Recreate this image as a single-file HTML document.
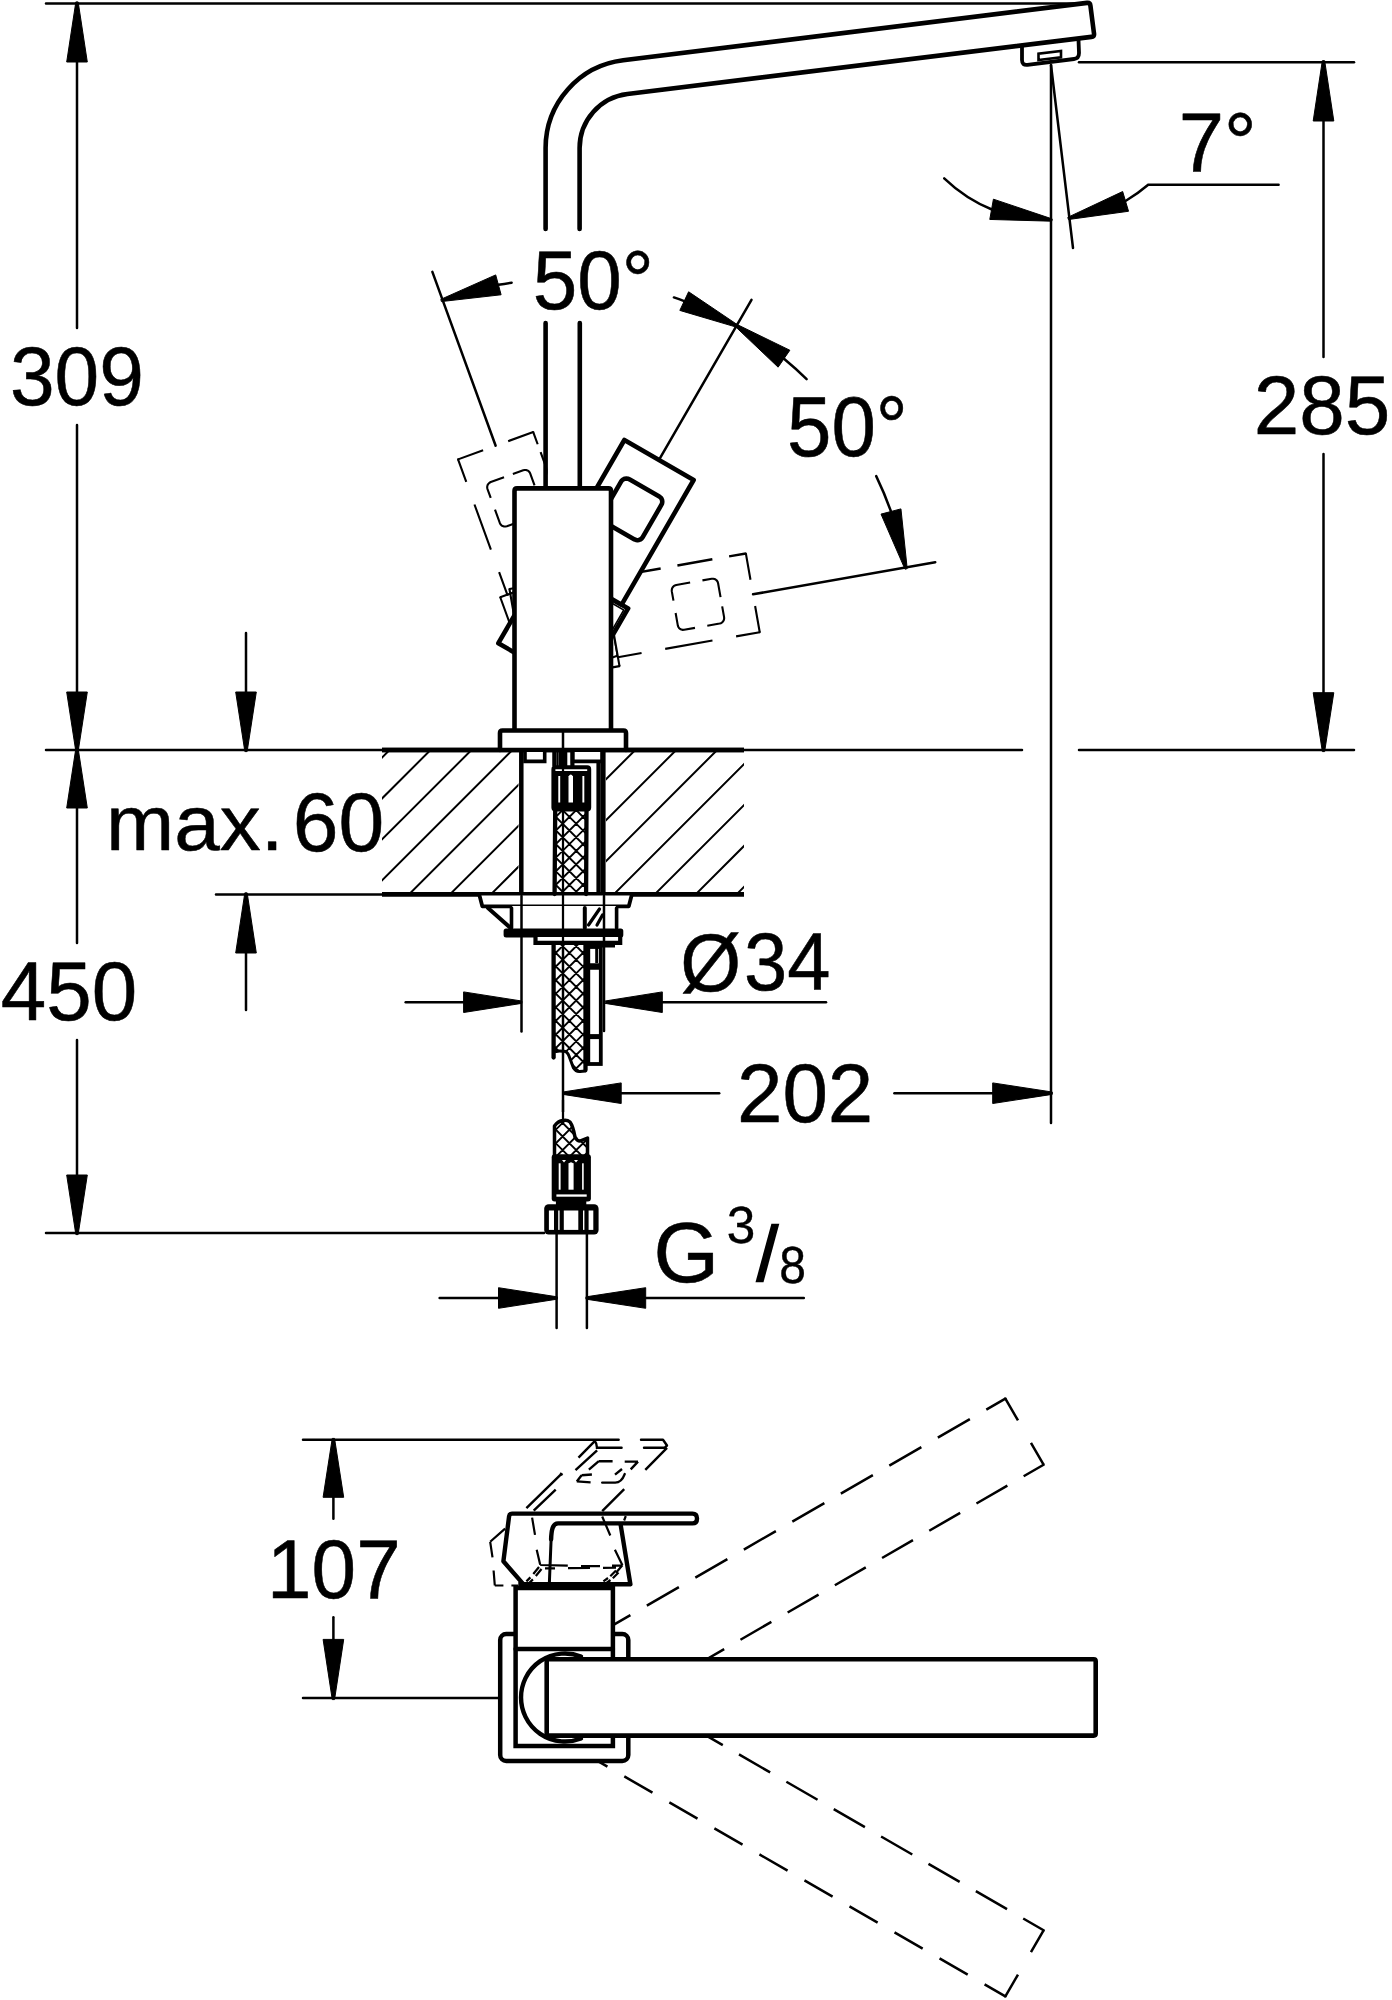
<!DOCTYPE html>
<html><head><meta charset="utf-8"><title>Faucet drawing</title>
<style>html,body{margin:0;padding:0;background:#fff;}svg{display:block;}text{fill:#000;stroke:#000;stroke-width:0.65px;stroke-linejoin:round;font-family:"Liberation Sans",sans-serif;}</style>
</head><body>
<svg width="1392" height="2000" viewBox="0 0 1392 2000" stroke="#000" stroke-linecap="round" fill="none" font-family="Liberation Sans, sans-serif">
<line x1="46" y1="3.5" x2="1085" y2="3.5" stroke-width="2.5"/>
<line x1="77" y1="4" x2="77" y2="328" stroke-width="2.5"/>
<line x1="77" y1="425" x2="77" y2="943" stroke-width="2.5"/>
<line x1="77" y1="1040" x2="77" y2="1233" stroke-width="2.5"/>
<polygon points="78.2,2.3 87.3,62 66.7,62 75.8,2.3" fill="#000" stroke="#000" stroke-width="1.0" stroke-linejoin="round"/>
<polygon points="75.8,751.2 66.7,692 87.3,692 78.2,751.2" fill="#000" stroke="#000" stroke-width="1.0" stroke-linejoin="round"/>
<polygon points="78.2,748.8 87.3,808 66.7,808 75.8,748.8" fill="#000" stroke="#000" stroke-width="1.0" stroke-linejoin="round"/>
<polygon points="75.8,1234.2 66.7,1175 87.3,1175 78.2,1234.2" fill="#000" stroke="#000" stroke-width="1.0" stroke-linejoin="round"/>
<text transform="matrix(0.8032,0,0,0.8325,9.89,405.07)" font-size="100">309</text>
<text transform="matrix(0.8180,0,0,0.8254,0.86,1019.97)" font-size="100">450</text>
<line x1="46" y1="750" x2="1022" y2="750" stroke-width="2.5"/>
<line x1="1079" y1="750" x2="1354" y2="750" stroke-width="2.5"/>
<line x1="216" y1="894.4" x2="382" y2="894.4" stroke-width="2.5"/>
<line x1="382" y1="750" x2="744" y2="750" stroke-width="4.6" stroke-linecap="butt"/>
<line x1="382" y1="894.4" x2="744" y2="894.4" stroke-width="4.6" stroke-linecap="butt"/>
<line x1="246" y1="633" x2="246" y2="750" stroke-width="2.5"/>
<polygon points="244.8,751.2 235.7,692 256.3,692 247.2,751.2" fill="#000" stroke="#000" stroke-width="1.0" stroke-linejoin="round"/>
<line x1="246" y1="894.4" x2="246" y2="1010" stroke-width="2.5"/>
<polygon points="247.2,893.2 256.3,953 235.7,953 244.8,893.2" fill="#000" stroke="#000" stroke-width="1.0" stroke-linejoin="round"/>
<text transform="matrix(0.8194,0,0,0.7799,105.97,850.02)" font-size="100">max.</text>
<text transform="matrix(0.8225,0,0,0.8254,292.79,851.07)" font-size="100">60</text>
<clipPath id="hc"><rect x="382" y="750" width="136.5" height="144.4"/><rect x="606" y="750" width="138" height="144.4"/></clipPath>
<path d="M204.2,894.4L348.6,750M245.15,894.4L389.55,750M286.1,894.4L430.5,750M327.05,894.4L471.45,750M368,894.4L512.4,750M408.95,894.4L553.35,750M449.9,894.4L594.3,750M490.85,894.4L635.25,750M531.8,894.4L676.2,750M572.75,894.4L717.15,750M613.7,894.4L758.1,750M654.65,894.4L799.05,750M695.6,894.4L840,750M736.55,894.4L880.95,750" stroke-width="2" clip-path="url(#hc)"/>
<path d="M545.6,229 V148 A88.4,88.4 0 0 1 623.2,60.3 L1087,2.9 Q1090,2.5 1090.4,5.5 L1094,33.5 Q1094.4,36.5 1091.4,36.9 L627.4,94 A54.4,54.4 0 0 0 579.6,148 V229" fill="none" stroke-width="4.6"/>
<path d="M1022,46 L1022,60 Q1022,65.5 1027.5,64.8 L1074,59 Q1079,58.4 1079,53 L1078.5,40" fill="none" stroke-width="3.8"/>
<path d="M1038.5,53.6 L1038.5,60 L1061,57.3 L1061,51 Z" fill="none" stroke-width="2.6"/>
<line x1="1051" y1="65" x2="1051" y2="1123" stroke-width="2.5"/>
<line x1="1051" y1="65" x2="1073" y2="248" stroke-width="2.5"/>
<line x1="1079" y1="62.2" x2="1354" y2="62.2" stroke-width="2.5"/>
<line x1="1323.5" y1="62" x2="1323.5" y2="357" stroke-width="2.5"/>
<line x1="1323.5" y1="454" x2="1323.5" y2="750" stroke-width="2.5"/>
<polygon points="1324.7,61 1333.8,121 1313.2,121 1322.3,61" fill="#000" stroke="#000" stroke-width="1.0" stroke-linejoin="round"/>
<polygon points="1322.3,751.2 1313.2,692.7 1333.8,692.7 1324.7,751.2" fill="#000" stroke="#000" stroke-width="1.0" stroke-linejoin="round"/>
<text transform="matrix(0.8184,0,0,0.8283,1253.81,434.37)" font-size="100">285</text>
<path d="M944.2,178.3 A155,155 0 0 0 993,210" fill="none" stroke-width="2.5"/>
<polygon points="1051.47,221.19 989.79,219.44 993.41,199.16 1051.89,218.83" fill="#000" stroke="#000" stroke-width="1.0" stroke-linejoin="round"/>
<polygon points="1068.11,217.19 1122.67,191.52 1128.53,211.28 1068.79,219.49" fill="#000" stroke="#000" stroke-width="1.0" stroke-linejoin="round"/>
<path d="M1125.5,201 A155,155 0 0 0 1148.2,184.8 L1278.6,184.8" fill="none" stroke-width="2.5"/>
<text transform="matrix(0.8142,0,0,0.8416,1178.63,170.80)" font-size="100">7°</text>
<line x1="500.26" y1="597.26" x2="589.53" y2="564.77" stroke-width="2.1" stroke-dasharray="63.33 31.67" stroke-dashoffset="31.67" stroke-linecap="butt"/>
<line x1="589.53" y1="564.77" x2="622.03" y2="654.04" stroke-width="2.1" stroke-dasharray="63.33 31.67" stroke-dashoffset="31.67" stroke-linecap="butt"/>
<line x1="622.03" y1="654.04" x2="532.76" y2="686.53" stroke-width="2.1" stroke-dasharray="63.33 31.67" stroke-dashoffset="31.67" stroke-linecap="butt"/>
<line x1="532.76" y1="686.53" x2="500.26" y2="597.26" stroke-width="2.1" stroke-dasharray="63.33 31.67" stroke-dashoffset="31.67" stroke-linecap="butt"/>
<circle cx="500.26" cy="597.26" r="1.05" fill="#000" stroke="none"/>
<circle cx="589.53" cy="564.77" r="1.05" fill="#000" stroke="none"/>
<circle cx="622.03" cy="654.04" r="1.05" fill="#000" stroke="none"/>
<circle cx="532.76" cy="686.53" r="1.05" fill="#000" stroke="none"/>
<polygon points="507.31,594.7 458.06,459.38 533.24,432.02 582.49,567.33" fill="#fff" stroke="none"/>
<line x1="458.06" y1="459.38" x2="533.24" y2="432.02" stroke-width="2.1" stroke-dasharray="53.33 26.67" stroke-dashoffset="26.67" stroke-linecap="butt"/>
<line x1="533.24" y1="432.02" x2="582.49" y2="567.33" stroke-width="2.1" stroke-dasharray="47 8.5" stroke-dashoffset="34" stroke-linecap="butt"/>
<line x1="507.31" y1="594.7" x2="458.06" y2="459.38" stroke-width="2.1" stroke-dasharray="48 24" stroke-dashoffset="24" stroke-linecap="butt"/>
<line x1="582.49" y1="567.33" x2="507.31" y2="594.7" stroke-width="2.1" stroke-dasharray="53.33 26.67" stroke-dashoffset="26.67" stroke-linecap="butt"/>
<circle cx="458.06" cy="459.38" r="1.05" fill="#000" stroke="none"/>
<circle cx="533.24" cy="432.02" r="1.05" fill="#000" stroke="none"/>
<circle cx="582.49" cy="567.33" r="1.05" fill="#000" stroke="none"/>
<circle cx="507.31" cy="594.7" r="1.05" fill="#000" stroke="none"/>
<path d="M507,476.15 L523.21,470.25 L524.61,469.94 L526.04,470.01 L527.41,470.44 L528.62,471.21 L529.59,472.27 L530.26,473.54 L542.57,507.37 L542.88,508.77 L542.82,510.21 L542.39,511.58 L541.62,512.79 L540.56,513.76 L539.28,514.42 L506.86,526.22 L505.46,526.53 L504.03,526.47 L502.66,526.04 L501.45,525.26 L500.48,524.21 L499.81,522.93 L487.5,489.1 L487.19,487.7 L487.25,486.27 L487.69,484.9 L488.46,483.69 L489.52,482.72 L490.79,482.05 L507,476.15" stroke-width="2.1" fill="none" stroke-dasharray="32.14 12.5" stroke-dashoffset="38.39" stroke-linecap="butt" stroke-linejoin="round"/>
<line x1="602.99" y1="572.54" x2="619.49" y2="666.1" stroke-width="2.1" stroke-dasharray="63.33 31.67" stroke-dashoffset="31.67" stroke-linecap="butt"/>
<line x1="619.49" y1="666.1" x2="525.93" y2="682.59" stroke-width="2.1" stroke-dasharray="63.33 31.67" stroke-dashoffset="31.67" stroke-linecap="butt"/>
<line x1="525.93" y1="682.59" x2="509.44" y2="589.04" stroke-width="2.1" stroke-dasharray="63.33 31.67" stroke-dashoffset="31.67" stroke-linecap="butt"/>
<line x1="509.44" y1="589.04" x2="602.99" y2="572.54" stroke-width="2.1" stroke-dasharray="63.33 31.67" stroke-dashoffset="31.67" stroke-linecap="butt"/>
<circle cx="602.99" cy="572.54" r="1.05" fill="#000" stroke="none"/>
<circle cx="619.49" cy="666.1" r="1.05" fill="#000" stroke="none"/>
<circle cx="525.93" cy="682.59" r="1.05" fill="#000" stroke="none"/>
<circle cx="509.44" cy="589.04" r="1.05" fill="#000" stroke="none"/>
<polygon points="745.85,553.44 759.74,632.23 617.93,657.23 604.03,578.45" fill="#fff" stroke="none"/>
<line x1="745.85" y1="553.44" x2="759.74" y2="632.23" stroke-width="2.1" stroke-dasharray="53.33 26.67" stroke-dashoffset="26.67" stroke-linecap="butt"/>
<line x1="759.74" y1="632.23" x2="617.93" y2="657.23" stroke-width="2.1" stroke-dasharray="48 24" stroke-dashoffset="24" stroke-linecap="butt"/>
<line x1="745.85" y1="553.44" x2="604.03" y2="578.45" stroke-width="2.5" stroke-dasharray="35.5 17" stroke-dashoffset="18.5" stroke-linecap="butt"/>
<line x1="617.93" y1="657.23" x2="604.03" y2="578.45" stroke-width="2.1" stroke-dasharray="53.33 26.67" stroke-dashoffset="26.67" stroke-linecap="butt"/>
<circle cx="745.85" cy="553.44" r="1.05" fill="#000" stroke="none"/>
<circle cx="759.74" cy="632.23" r="1.05" fill="#000" stroke="none"/>
<circle cx="617.93" cy="657.23" r="1.05" fill="#000" stroke="none"/>
<circle cx="604.03" cy="578.45" r="1.05" fill="#000" stroke="none"/>
<path d="M721.09,600.2 L724.09,617.19 L724.15,618.62 L723.84,620.03 L723.17,621.3 L722.2,622.36 L720.99,623.13 L719.62,623.56 L684.17,629.81 L682.74,629.88 L681.33,629.56 L680.06,628.9 L679,627.93 L678.23,626.72 L677.8,625.35 L671.81,591.38 L671.75,589.94 L672.06,588.54 L672.72,587.27 L673.69,586.21 L674.9,585.44 L676.27,585 L711.72,578.75 L713.16,578.69 L714.56,579 L715.83,579.66 L716.89,580.63 L717.66,581.84 L718.09,583.21 L721.09,600.2" stroke-width="2.1" fill="none" stroke-dasharray="32.14 12.5" stroke-dashoffset="38.39" stroke-linecap="butt" stroke-linejoin="round"/>
<rect x="547.5" y="323" width="30.5" height="166" fill="#fff" stroke="none"/>
<line x1="545.6" y1="323" x2="545.6" y2="488" stroke-width="4.6"/>
<line x1="579.8" y1="323" x2="579.8" y2="488" stroke-width="4.6"/>
<polygon points="545.86,560.95 628.14,608.45 580.64,690.72 498.36,643.22" fill="#fff" stroke-width="4.6" stroke-linejoin="round"/>
<polygon points="552.36,564.7 624.36,439.99 693.64,479.99 621.64,604.7" fill="#fff" stroke-width="4.6" stroke-linejoin="round"/>
<polygon points="659.27,496.52 660.51,497.47 661.47,498.72 662.07,500.16 662.27,501.72 662.07,503.27 661.47,504.72 642.72,537.19 641.76,538.44 640.52,539.39 639.07,539.99 637.52,540.19 635.97,539.99 634.52,539.39 604.64,522.14 603.4,521.19 602.45,519.94 601.85,518.5 601.64,516.94 601.85,515.39 602.45,513.94 621.2,481.47 622.15,480.22 623.39,479.27 624.84,478.67 626.39,478.47 627.95,478.67 629.39,479.27" fill="#fff" stroke-width="4.6" stroke-linejoin="round"/>
<polyline points="609.5,601.73 623.79,609.98 609.54,634.66" fill="none" stroke-width="1.6" stroke-linejoin="miter"/>
<path d="M514.5,730 V491 Q514.5,488.4 517,488.4 H608.5 Q611,488.4 611,491 V730" fill="#fff" stroke-width="4.6"/>
<path d="M500,750 V733 Q500,730.5 502.5,730.5 H623.5 Q626,730.5 626,733 V750" fill="#fff" stroke-width="4.6"/>
<line x1="563" y1="731" x2="563" y2="749" stroke-width="2.5"/>
<line x1="382" y1="750" x2="744" y2="750" stroke-width="4.6" stroke-linecap="butt"/>
<line x1="495.65" y1="445.7" x2="432.37" y2="271.86" stroke-width="2.5"/>
<line x1="659" y1="459.99" x2="751.5" y2="299.78" stroke-width="2.5"/>
<line x1="753.05" y1="594.31" x2="935.24" y2="562.19" stroke-width="2.5"/>
<polygon points="441.16,299.21 495.69,274.91 501.11,294.78 441.79,301.52" fill="#000" stroke="#000" stroke-width="1.0" stroke-linejoin="round"/>
<path d="M498.4,284.84 A349,349 0 0 1 511.62,282.66" fill="none" stroke-width="2.5"/>
<polygon points="737.07,327.35 679.83,310.42 688.62,291.79 738.1,325.18" fill="#000" stroke="#000" stroke-width="1.0" stroke-linejoin="round"/>
<path d="M673.89,297.42 A349,349 0 0 1 684.22,301.1" fill="none" stroke-width="2.5"/>
<polygon points="736.2,324.09 789.86,350.24 778.12,367.17 734.83,326.06" fill="#000" stroke="#000" stroke-width="1.0" stroke-linejoin="round"/>
<path d="M783.99,358.7 A349,349 0 0 1 806.62,379.08" fill="none" stroke-width="2.5"/>
<polygon points="904.84,568.86 881.02,514.12 900.94,508.88 907.16,568.25" fill="#000" stroke="#000" stroke-width="1.0" stroke-linejoin="round"/>
<path d="M876.21,476.1 A349,349 0 0 1 890.98,511.5" fill="none" stroke-width="2.5"/>
<text transform="matrix(0.8007,0,0,0.8396,532.70,308.76)" font-size="100">50°</text>
<text transform="matrix(0.7986,0,0,0.8438,787.01,455.96)" font-size="100">50°</text>
<line x1="521.3" y1="752" x2="521.3" y2="894" stroke-width="4.5" stroke-linecap="butt"/>
<line x1="603.2" y1="752" x2="603.2" y2="894" stroke-width="4.8" stroke-linecap="butt"/>
<path d="M525,752 V761.4 H544.7 V752" stroke-width="3.6" fill="#fff"/>
<path d="M572.6,752 V761.4 H602 V752" stroke-width="3.6" fill="#fff"/>
<line x1="554.5" y1="752" x2="554.5" y2="766" stroke-width="4.5" stroke-linecap="butt"/>
<line x1="557.7" y1="752" x2="557.7" y2="766" stroke-width="1.6" stroke-linecap="butt"/>
<rect x="558.5" y="752" width="8.8" height="14" fill="#000" stroke="none"/>
<line x1="572.4" y1="752" x2="572.4" y2="766" stroke-width="4.2" stroke-linecap="butt"/>
<line x1="598.2" y1="763" x2="598.2" y2="894" stroke-width="3.6" stroke-linecap="butt"/>
<line x1="600.8" y1="763" x2="600.8" y2="894" stroke-width="1.2" stroke-linecap="butt"/>
<rect x="553.4" y="767.3" width="35.8" height="42.2" rx="2" stroke-width="4" fill="#fff"/>
<rect x="553.4" y="771" width="35.8" height="39" fill="#000" stroke="none"/>
<rect x="558.3" y="776" width="1.900000000000091" height="26.5" fill="#fff" stroke="none"/>
<rect x="568.5" y="776" width="4.5" height="26.5" fill="#fff" stroke="none"/>
<rect x="582.4" y="776" width="1.8999999999999773" height="26.5" fill="#fff" stroke="none"/>
<path d="M568.5,776.5 Q570.7,772.5 573,776.5 Z" fill="#fff" stroke="none"/>
<clipPath id="bc1"><rect x="555" y="811" width="30" height="261"/></clipPath>
<path d="M-118.5,809L146.5,1074M169.3,809L-95.7,1074M-104.9,809L160.1,1074M182.9,809L-82.1,1074M-91.3,809L173.7,1074M196.5,809L-68.5,1074M-77.7,809L187.3,1074M210.1,809L-54.9,1074M-64.1,809L200.9,1074M223.7,809L-41.3,1074M-50.5,809L214.5,1074M237.3,809L-27.7,1074M-36.9,809L228.1,1074M250.9,809L-14.1,1074M-23.3,809L241.7,1074M264.5,809L-0.5,1074M-9.7,809L255.3,1074M278.1,809L13.1,1074M3.9,809L268.9,1074M291.7,809L26.7,1074M17.5,809L282.5,1074M305.3,809L40.3,1074M31.1,809L296.1,1074M318.9,809L53.9,1074M44.7,809L309.7,1074M332.5,809L67.5,1074M58.3,809L323.3,1074M346.1,809L81.1,1074M71.9,809L336.9,1074M359.7,809L94.7,1074M85.5,809L350.5,1074M373.3,809L108.3,1074M99.1,809L364.1,1074M386.9,809L121.9,1074M112.7,809L377.7,1074M400.5,809L135.5,1074M126.3,809L391.3,1074M414.1,809L149.1,1074M139.9,809L404.9,1074M427.7,809L162.7,1074M153.5,809L418.5,1074M441.3,809L176.3,1074M167.1,809L432.1,1074M454.9,809L189.9,1074M180.7,809L445.7,1074M468.5,809L203.5,1074M194.3,809L459.3,1074M482.1,809L217.1,1074M207.9,809L472.9,1074M495.7,809L230.7,1074M221.5,809L486.5,1074M509.3,809L244.3,1074M235.1,809L500.1,1074M522.9,809L257.9,1074M248.7,809L513.7,1074M536.5,809L271.5,1074M262.3,809L527.3,1074M550.1,809L285.1,1074M275.9,809L540.9,1074M563.7,809L298.7,1074M289.5,809L554.5,1074M577.3,809L312.3,1074M303.1,809L568.1,1074M590.9,809L325.9,1074M316.7,809L581.7,1074M604.5,809L339.5,1074M330.3,809L595.3,1074M618.1,809L353.1,1074M343.9,809L608.9,1074M631.7,809L366.7,1074M357.5,809L622.5,1074M645.3,809L380.3,1074M371.1,809L636.1,1074M658.9,809L393.9,1074M384.7,809L649.7,1074M672.5,809L407.5,1074M398.3,809L663.3,1074M686.1,809L421.1,1074M411.9,809L676.9,1074M699.7,809L434.7,1074M425.5,809L690.5,1074M713.3,809L448.3,1074M439.1,809L704.1,1074M726.9,809L461.9,1074M452.7,809L717.7,1074M740.5,809L475.5,1074M466.3,809L731.3,1074M754.1,809L489.1,1074M479.9,809L744.9,1074M767.7,809L502.7,1074M493.5,809L758.5,1074M781.3,809L516.3,1074M507.1,809L772.1,1074M794.9,809L529.9,1074M520.7,809L785.7,1074M808.5,809L543.5,1074M534.3,809L799.3,1074M822.1,809L557.1,1074M547.9,809L812.9,1074M835.7,809L570.7,1074M561.5,809L826.5,1074M849.3,809L584.3,1074M575.1,809L840.1,1074M862.9,809L597.9,1074M588.7,809L853.7,1074M876.5,809L611.5,1074M602.3,809L867.3,1074M890.1,809L625.1,1074M615.9,809L880.9,1074M903.7,809L638.7,1074M629.5,809L894.5,1074M917.3,809L652.3,1074M643.1,809L908.1,1074M930.9,809L665.9,1074M656.7,809L921.7,1074M944.5,809L679.5,1074M670.3,809L935.3,1074M958.1,809L693.1,1074M683.9,809L948.9,1074M971.7,809L706.7,1074M697.5,809L962.5,1074M985.3,809L720.3,1074M711.1,809L976.1,1074M998.9,809L733.9,1074M724.7,809L989.7,1074M1012.5,809L747.5,1074M738.3,809L1003.3,1074M1026.1,809L761.1,1074M751.9,809L1016.9,1074M1039.7,809L774.7,1074M765.5,809L1030.5,1074M1053.3,809L788.3,1074M779.1,809L1044.1,1074M1066.9,809L801.9,1074M792.7,809L1057.7,1074M1080.5,809L815.5,1074M806.3,809L1071.3,1074M1094.1,809L829.1,1074M819.9,809L1084.9,1074M1107.7,809L842.7,1074M833.5,809L1098.5,1074M1121.3,809L856.3,1074M847.1,809L1112.1,1074M1134.9,809L869.9,1074M860.7,809L1125.7,1074M1148.5,809L883.5,1074M874.3,809L1139.3,1074M1162.1,809L897.1,1074M887.9,809L1152.9,1074M1175.7,809L910.7,1074M901.5,809L1166.5,1074M1189.3,809L924.3,1074M915.1,809L1180.1,1074M1202.9,809L937.9,1074M928.7,809L1193.7,1074M1216.5,809L951.5,1074M942.3,809L1207.3,1074M1230.1,809L965.1,1074M955.9,809L1220.9,1074M1243.7,809L978.7,1074" stroke-width="1.9" clip-path="url(#bc1)"/>
<path d="M554,1053 Q559,1050.5 563,1051.3 Q567,1050.5 569,1056 L573.5,1068 Q576,1072 580,1071.5 L586,1071 L586,1080 L554,1080 Z" fill="#fff" stroke="none"/>
<path d="M556,1051.5 Q559,1050.5 563,1051.3 Q567,1050.5 569,1056 L573.5,1068 Q576,1072 580,1071.5 L585.5,1071" fill="none" stroke-width="3"/>
<path d="M479.5,895.5 L482.3,906.3 L628.8,906.3 L631.6,895.5" stroke-width="3.8" fill="#fff" stroke-linejoin="round"/>
<rect x="512" y="906" width="104" height="23" fill="#fff" stroke="none"/>
<line x1="488" y1="908" x2="510" y2="927.5" stroke-width="4"/>
<line x1="511.5" y1="908" x2="511.5" y2="928" stroke-width="3.6"/>
<line x1="584.8" y1="908" x2="584.8" y2="928" stroke-width="4"/>
<line x1="616.6" y1="908" x2="616.6" y2="928" stroke-width="3.6"/>
<line x1="588.5" y1="925" x2="599.5" y2="909" stroke-width="3.2"/>
<line x1="597" y1="925" x2="602.5" y2="915" stroke-width="3.2"/>
<rect x="503.6" y="928.4" width="119.7" height="9.1" rx="2.5" fill="#000" stroke="none"/>
<path d="M535.5,937 V942.8 H620.2 V937" stroke-width="4.2" fill="#fff"/>
<rect x="585" y="944" width="30" height="3.5" fill="#000" stroke="none"/>
<line x1="563" y1="750" x2="563" y2="1121" stroke-width="2.25"/>
<line x1="521.5" y1="896" x2="521.5" y2="1031.6" stroke-width="2.5"/>
<line x1="604" y1="896" x2="604" y2="1031" stroke-width="2.5"/>
<rect x="588.3" y="947" width="12.5" height="117" stroke-width="3.8" fill="#fff"/>
<line x1="588.3" y1="966.5" x2="600.8" y2="966.5" stroke-width="6.5" stroke-linecap="butt"/>
<line x1="588.3" y1="1036.6" x2="600.8" y2="1036.6" stroke-width="5" stroke-linecap="butt"/>
<line x1="596.7" y1="947" x2="596.7" y2="963" stroke-width="3" stroke-linecap="butt"/>
<line x1="553.6" y1="944" x2="553.6" y2="1057.5" stroke-width="4.3"/>
<line x1="585.5" y1="944" x2="585.5" y2="1070" stroke-width="4.3"/>
<line x1="555.2" y1="811" x2="554.6" y2="894" stroke-width="4.3"/>
<line x1="586.5" y1="811" x2="586.1" y2="894" stroke-width="4.3"/>
<line x1="563" y1="944" x2="563" y2="1121" stroke-width="2.25"/>
<line x1="405.7" y1="1002.2" x2="463" y2="1002.2" stroke-width="2.5"/>
<polygon points="521.5,1003.4 463.6,1012.5 463.6,991.9 521.5,1001" fill="#000" stroke="#000" stroke-width="1.0" stroke-linejoin="round"/>
<polygon points="605.3,1001 662.3,991.9 662.3,1012.5 605.3,1003.4" fill="#000" stroke="#000" stroke-width="1.0" stroke-linejoin="round"/>
<line x1="662" y1="1002.2" x2="826" y2="1002.2" stroke-width="2.5"/>
<text transform="matrix(0.7830,0,0,0.8243,680.26,990.94)" font-size="100">Ø</text>
<text transform="matrix(0.7770,0,0,0.8198,744.09,989.98)" font-size="100">34</text>
<polygon points="563.1,1092 621.2,1082.9 621.2,1103.5 563.1,1094.4" fill="#000" stroke="#000" stroke-width="1.0" stroke-linejoin="round"/>
<line x1="621" y1="1093.2" x2="719.2" y2="1093.2" stroke-width="2.5"/>
<text transform="matrix(0.8179,0,0,0.8254,736.91,1122.07)" font-size="100">202</text>
<line x1="894.4" y1="1093.2" x2="992.7" y2="1093.2" stroke-width="2.5"/>
<polygon points="1052,1094.4 992.7,1103.5 992.7,1082.9 1052,1092" fill="#000" stroke="#000" stroke-width="1.0" stroke-linejoin="round"/>
<clipPath id="bc2"><rect x="555.5" y="1117" width="32.0" height="39"/></clipPath>
<path d="M187.5,1115L230.5,1158M-136.7,1115L-179.7,1158M201.1,1115L244.1,1158M-123.1,1115L-166.1,1158M214.7,1115L257.7,1158M-109.5,1115L-152.5,1158M228.3,1115L271.3,1158M-95.9,1115L-138.9,1158M241.9,1115L284.9,1158M-82.3,1115L-125.3,1158M255.5,1115L298.5,1158M-68.7,1115L-111.7,1158M269.1,1115L312.1,1158M-55.1,1115L-98.1,1158M282.7,1115L325.7,1158M-41.5,1115L-84.5,1158M296.3,1115L339.3,1158M-27.9,1115L-70.9,1158M309.9,1115L352.9,1158M-14.3,1115L-57.3,1158M323.5,1115L366.5,1158M-0.7,1115L-43.7,1158M337.1,1115L380.1,1158M12.9,1115L-30.1,1158M350.7,1115L393.7,1158M26.5,1115L-16.5,1158M364.3,1115L407.3,1158M40.1,1115L-2.9,1158M377.9,1115L420.9,1158M53.7,1115L10.7,1158M391.5,1115L434.5,1158M67.3,1115L24.3,1158M405.1,1115L448.1,1158M80.9,1115L37.9,1158M418.7,1115L461.7,1158M94.5,1115L51.5,1158M432.3,1115L475.3,1158M108.1,1115L65.1,1158M445.9,1115L488.9,1158M121.7,1115L78.7,1158M459.5,1115L502.5,1158M135.3,1115L92.3,1158M473.1,1115L516.1,1158M148.9,1115L105.9,1158M486.7,1115L529.7,1158M162.5,1115L119.5,1158M500.3,1115L543.3,1158M176.1,1115L133.1,1158M513.9,1115L556.9,1158M189.7,1115L146.7,1158M527.5,1115L570.5,1158M203.3,1115L160.3,1158M541.1,1115L584.1,1158M216.9,1115L173.9,1158M554.7,1115L597.7,1158M230.5,1115L187.5,1158M568.3,1115L611.3,1158M244.1,1115L201.1,1158M581.9,1115L624.9,1158M257.7,1115L214.7,1158M595.5,1115L638.5,1158M271.3,1115L228.3,1158M609.1,1115L652.1,1158M284.9,1115L241.9,1158M622.7,1115L665.7,1158M298.5,1115L255.5,1158M636.3,1115L679.3,1158M312.1,1115L269.1,1158M649.9,1115L692.9,1158M325.7,1115L282.7,1158M663.5,1115L706.5,1158M339.3,1115L296.3,1158M677.1,1115L720.1,1158M352.9,1115L309.9,1158M690.7,1115L733.7,1158M366.5,1115L323.5,1158M704.3,1115L747.3,1158M380.1,1115L337.1,1158M717.9,1115L760.9,1158M393.7,1115L350.7,1158M731.5,1115L774.5,1158M407.3,1115L364.3,1158M745.1,1115L788.1,1158M420.9,1115L377.9,1158M758.7,1115L801.7,1158M434.5,1115L391.5,1158M772.3,1115L815.3,1158M448.1,1115L405.1,1158M785.9,1115L828.9,1158M461.7,1115L418.7,1158M799.5,1115L842.5,1158M475.3,1115L432.3,1158M813.1,1115L856.1,1158M488.9,1115L445.9,1158M826.7,1115L869.7,1158M502.5,1115L459.5,1158M840.3,1115L883.3,1158M516.1,1115L473.1,1158M853.9,1115L896.9,1158M529.7,1115L486.7,1158M867.5,1115L910.5,1158M543.3,1115L500.3,1158M881.1,1115L924.1,1158M556.9,1115L513.9,1158M894.7,1115L937.7,1158M570.5,1115L527.5,1158M908.3,1115L951.3,1158M584.1,1115L541.1,1158M921.9,1115L964.9,1158M597.7,1115L554.7,1158M935.5,1115L978.5,1158M611.3,1115L568.3,1158M949.1,1115L992.1,1158M624.9,1115L581.9,1158M962.7,1115L1005.7,1158M638.5,1115L595.5,1158M976.3,1115L1019.3,1158M652.1,1115L609.1,1158M989.9,1115L1032.9,1158M665.7,1115L622.7,1158M1003.5,1115L1046.5,1158M679.3,1115L636.3,1158M1017.1,1115L1060.1,1158M692.9,1115L649.9,1158M1030.7,1115L1073.7,1158M706.5,1115L663.5,1158M1044.3,1115L1087.3,1158M720.1,1115L677.1,1158M1057.9,1115L1100.9,1158M733.7,1115L690.7,1158M1071.5,1115L1114.5,1158M747.3,1115L704.3,1158M1085.1,1115L1128.1,1158M760.9,1115L717.9,1158M1098.7,1115L1141.7,1158M774.5,1115L731.5,1158M1112.3,1115L1155.3,1158M788.1,1115L745.1,1158M1125.9,1115L1168.9,1158M801.7,1115L758.7,1158M1139.5,1115L1182.5,1158M815.3,1115L772.3,1158M1153.1,1115L1196.1,1158M828.9,1115L785.9,1158M1166.7,1115L1209.7,1158M842.5,1115L799.5,1158M1180.3,1115L1223.3,1158M856.1,1115L813.1,1158M1193.9,1115L1236.9,1158M869.7,1115L826.7,1158M1207.5,1115L1250.5,1158M883.3,1115L840.3,1158M1221.1,1115L1264.1,1158M896.9,1115L853.9,1158M1234.7,1115L1277.7,1158M910.5,1115L867.5,1158M1248.3,1115L1291.3,1158M924.1,1115L881.1,1158M1261.9,1115L1304.9,1158M937.7,1115L894.7,1158" stroke-width="1.9" clip-path="url(#bc2)"/>
<path d="M540,1112 H600 V1160 H540 Z M554.5,1126 Q558,1121 563,1120.5 Q567,1119.5 570,1122 Q573,1126 575,1137 Q577,1141 580,1141 L587.5,1138 V1158 H554.5 Z" fill="#fff" fill-rule="evenodd" stroke="none"/>
<line x1="563" y1="1100" x2="563" y2="1121" stroke-width="2.25"/>
<path d="M554.5,1156 V1126 Q558,1121 563,1120.5 Q567,1119.5 570,1122 Q573,1126 575,1137 Q577,1141 580,1141 L587.5,1138 V1156" stroke-width="3.5" fill="none" stroke-linejoin="round"/>
<rect x="551.7" y="1154.2" width="39.2" height="47.2" rx="3" fill="#000" stroke="none"/>
<rect x="558.7" y="1163.3" width="1.9" height="26.4" fill="#fff" stroke="none"/>
<rect x="568.5" y="1163.3" width="5.1" height="26.4" fill="#fff" stroke="none"/>
<rect x="582.1" y="1163.3" width="1.6" height="26.4" fill="#fff" stroke="none"/>
<path d="M568.5,1164 Q571,1160.5 573.6,1164 Z" fill="#fff" stroke="none"/>
<rect x="556.4" y="1194.4" width="30.3" height="2.3" fill="#fff" stroke="none"/>
<path d="M562,1160 L566,1160 L564,1162.5 Z M574,1160 L578,1160 L576,1162.5 Z" fill="#fff" stroke="none"/>
<rect x="555.9" y="1200" width="30.4" height="6" fill="#000" stroke="none"/>
<rect x="544.2" y="1204.2" width="54.4" height="30.4" rx="4.5" fill="#000" stroke="none"/>
<rect x="548.9" y="1210.5" width="5.1" height="19.4" fill="#fff" stroke="none"/>
<rect x="558.2" y="1210.5" width="1.4" height="19.4" fill="#fff" stroke="none"/>
<rect x="563.8" y="1210.5" width="14.5" height="19.4" fill="#fff" stroke="none"/>
<rect x="583" y="1210.5" width="1.4" height="19.4" fill="#fff" stroke="none"/>
<rect x="588.6" y="1210.5" width="4.7" height="19.4" fill="#fff" stroke="none"/>
<line x1="556.6" y1="1234" x2="556.6" y2="1328" stroke-width="2.5"/>
<line x1="586.9" y1="1234" x2="586.9" y2="1328" stroke-width="2.5"/>
<line x1="46" y1="1233" x2="544" y2="1233" stroke-width="2.5"/>
<line x1="439.6" y1="1298" x2="498.5" y2="1298" stroke-width="2.5"/>
<polygon points="557,1299.2 498.5,1308.3 498.5,1287.7 557,1296.8" fill="#000" stroke="#000" stroke-width="1.0" stroke-linejoin="round"/>
<polygon points="586.3,1296.8 645.7,1287.7 645.7,1308.3 586.3,1299.2" fill="#000" stroke="#000" stroke-width="1.0" stroke-linejoin="round"/>
<line x1="645.7" y1="1298" x2="803.8" y2="1298" stroke-width="2.5"/>
<text transform="matrix(0.8429,0,0,0.8452,653.59,1282.05)" font-size="100">G</text>
<text transform="matrix(0.5137,0,0,0.5272,726.77,1243.37)" font-size="100">3</text>
<text transform="matrix(0.4809,0,0,0.5216,779.16,1282.68)" font-size="100">8</text>
<polygon points="755.5,1282.3 763.5,1282.3 779.3,1223.7 771.4,1223.7" fill="#000" stroke-width="0"/>
<line x1="303" y1="1439.8" x2="618.6" y2="1439.8" stroke-width="2.5"/>
<line x1="303" y1="1697.9" x2="499.6" y2="1697.9" stroke-width="2.5"/>
<polygon points="334.6,1438.8 343.7,1497.3 323.1,1497.3 332.2,1438.8" fill="#000" stroke="#000" stroke-width="1.0" stroke-linejoin="round"/>
<line x1="333.4" y1="1497" x2="333.4" y2="1518.8" stroke-width="2.5"/>
<line x1="333.4" y1="1617.3" x2="333.4" y2="1640" stroke-width="2.5"/>
<polygon points="332.2,1699.2 323.1,1639.4 343.7,1639.4 334.6,1699.2" fill="#000" stroke="#000" stroke-width="1.0" stroke-linejoin="round"/>
<text transform="matrix(0.8006,0,0,0.8269,267.10,1597.57)" font-size="100">107</text>
<line x1="1005.37" y1="1398.57" x2="579.54" y2="1644.42" stroke-width="2.5" stroke-dasharray="37 19" stroke-dashoffset="15" stroke-linecap="butt"/>
<line x1="1043.57" y1="1464.73" x2="617.74" y2="1710.58" stroke-width="2.5" stroke-dasharray="35.7 18.8" stroke-dashoffset="12.7" stroke-linecap="butt"/>
<line x1="1005.37" y1="1398.57" x2="1043.57" y2="1464.73" stroke-width="2.5" stroke-dasharray="50.47 25.93" stroke-dashoffset="25.23" stroke-linecap="butt"/>
<circle cx="1005.37" cy="1398.57" r="1.25" fill="#000" stroke="none"/>
<circle cx="1043.57" cy="1464.73" r="1.25" fill="#000" stroke="none"/>
<line x1="1043.57" y1="1930.27" x2="617.74" y2="1684.42" stroke-width="2.5" stroke-dasharray="36 18.7" stroke-dashoffset="12.5" stroke-linecap="butt"/>
<line x1="1005.37" y1="1996.43" x2="579.54" y2="1750.58" stroke-width="2.5" stroke-dasharray="32.5 19.5" stroke-dashoffset="8.5" stroke-linecap="butt"/>
<line x1="1043.57" y1="1930.27" x2="1005.37" y2="1996.43" stroke-width="2.5" stroke-dasharray="50.47 25.93" stroke-dashoffset="25.23" stroke-linecap="butt"/>
<circle cx="1043.57" cy="1930.27" r="1.25" fill="#000" stroke="none"/>
<circle cx="1005.37" cy="1996.43" r="1.25" fill="#000" stroke="none"/>
<rect x="500.2" y="1634" width="128.1" height="127" rx="6" stroke-width="4.5" fill="#fff"/>
<rect x="515.6" y="1588" width="97.3" height="158" stroke-width="4.5" fill="#fff"/>
<line x1="515.6" y1="1649" x2="612.9" y2="1649" stroke-width="4.5"/>
<path d="M546.7,1659.3 H1093.7 Q1095.7,1659.3 1095.7,1661.3 V1733.6 Q1095.7,1735.6 1093.7,1735.6 H546.7 Z" stroke-width="4.6" fill="#fff"/>
<path d="M581,1656.5 A44,44 0 1 0 581,1738.5" stroke-width="4.4" fill="none"/>
<path d="M505.1,1528.6L490.2,1541.8M490.2,1541.8L492.5,1557.3M493.6,1570.5L494.8,1585.5M494.8,1585.5L503.4,1585.5M511.4,1585.5L518.3,1585.5" stroke-width="2.2" fill="none" stroke-linecap="butt"/>
<path d="M522.9,1583.6 L503.4,1561.3 L509.1,1516.2 Q509.4,1513.6 512,1513.6 H692.5 Q697,1513.6 697,1518.5 Q697,1523.4 692.5,1523.4 H558 Q554.2,1523.4 552.6,1528 Q551.3,1532 551.1,1539.5" stroke-width="4.4" fill="#fff" stroke-linejoin="round"/>
<line x1="551.1" y1="1539.5" x2="549.4" y2="1582" stroke-width="3"/>
<path d="M620.6,1524.5 L630.4,1584.3 H522.9" stroke-width="4.4" fill="none" stroke-linejoin="round"/>
<rect x="518.3" y="1582" width="94.3" height="7" fill="#000" stroke="none"/>
<path d="M532.1,1517.6L535,1534.9M536.7,1549.8L540.2,1564.8M540.2,1565L567.8,1565.6M581,1566L600,1566.2M612,1565.6L622.4,1565.3M545,1568.3L555,1568.3M568,1568.2L590,1567.9M603,1567.8L616,1567.6M602.2,1516.5L610.3,1535.5M614.9,1549.8L622.4,1565.3M622.4,1565.3L616,1572.8M539,1567L533.3,1574M541.5,1569L535.8,1576M530.4,1577.4L526.4,1581.4M532.9,1579.4L528.9,1583.4M616,1570.5L610.3,1576.3M618.5,1572.5L612.8,1578.3M608,1578L603.4,1581.4M610.5,1580L605.9,1583.4M625.8,1516L624.1,1520.5" stroke-width="2.2" fill="none" stroke-linecap="butt"/>
<path d="M641,1439.8 H663 L667,1445.5 L664.5,1447.8 H644" stroke-width="2.4" fill="none" stroke-linejoin="round"/>
<path d="M594.5,1440.5 Q597,1443.5 597,1447.8 H621.6" stroke-width="2.4" fill="none"/>
<path d="M667,1447.8L645.3,1469.8M594.5,1441.3L578.5,1457.7M597.1,1450.3L575.5,1470.2M561.7,1473.6L526.4,1508.1M555.7,1489.6L533.7,1510.7M598.8,1461.2L612.6,1461.2M598.8,1461.2L588.9,1469.7M624.7,1461.6L638,1461.6M638,1461.6L630.7,1469.4M591.9,1474.5L581.6,1475.3M581.6,1475.3L576.8,1481.4M576.8,1481.4L590.6,1482.4M615,1474.6L622,1469M624.2,1489.2L602.2,1511.2M560,1473.3L562.6,1475" stroke-width="2.4" fill="none" stroke-linecap="butt"/>
<path d="M602.2,1482.6 H615.2 Q621.5,1482.6 624.7,1474.1" stroke-width="2.4" fill="none"/>
</svg>
</body></html>
